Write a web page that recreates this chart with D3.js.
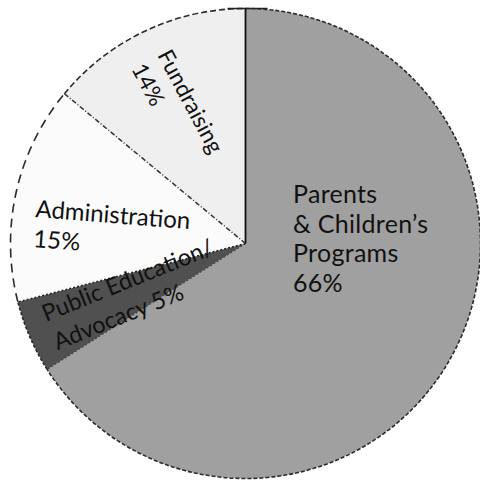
<!DOCTYPE html>
<html><head><meta charset="utf-8">
<script src="https://cdn.jsdelivr.net/npm/d3@7"></script>
<style>
html,body{margin:0;padding:0;background:#fff;}
svg{display:block;}
text{font-family:Lato,"Open Sans",sans-serif;fill:#111;}
</style></head>
<body>
<svg id="chart" width="480" height="481"></svg>
<script>
// ---- data ----
const categories = ["Parents & Children’s Programs", "Public Education/ Advocacy", "Administration", "Fundraising"];
const values = [66, 5, 15, 14];
const labelLines = [
  ["Parents", "& Children’s", "Programs", "66%"],
  ["Public Education/", "Advocacy 5%"],
  ["Administration", "15%"],
  ["Fundraising", "14%"]
];

// ---- styles / layout ----
const W = 480, H = 481;
const cx = 245.5, cy = 243.5, R = 235;
const fills = ["#a0a0a0", "#505050", "#fbfbfb", "#efefef"];
const arcDash = ["4,2", "3,2", "9,6", "6,3"];
// label anchors: [x, y, rotation, fontSize, lineHeight, letterSpacing]
const labelLayout = [
  [293, 203, 0, 25, 29.5, 0.3],
  [46, 322, -22, 23.5, 30.5, 0],
  [35, 217, 4.5, 24, 30, 0],
  [157, 55, 62, 22.5, 29.5, 0]
];

const svg = d3.select("#chart");
const g = svg.append("g").attr("transform", `translate(${cx},${cy})`);

const pie = d3.pie().sort(null).value(d => d).startAngle(0).endAngle(2 * Math.PI);
const arcs = pie(values);
const arcGen = d3.arc().innerRadius(0).outerRadius(R);

g.selectAll("path.slice").data(arcs).join("path")
  .attr("class", "slice")
  .attr("d", arcGen)
  .attr("fill", (d, i) => fills[i])
  .attr("stroke", "none");

// outer dashed rims
g.selectAll("path.rim").data(arcs).join("path")
  .attr("class", "rim")
  .attr("d", d => {
    const p = d3.path();
    p.arc(0, 0, R, d.startAngle - Math.PI / 2, d.endAngle - Math.PI / 2);
    return p.toString();
  })
  .attr("fill", "none")
  .attr("stroke", "#2a2a2a")
  .attr("stroke-width", 1.6)
  .attr("stroke-dasharray", (d, i) => arcDash[i]);

// radial boundaries
const radialStyle = [
  {dash: null, w: 1.8, c: "#111"},
  {dash: "2,2", w: 1.2, c: "#444"},
  {dash: "2,2", w: 1.6, c: "#222"},
  {dash: "5,2,1,2", w: 1.5, c: "#333"}
];
g.selectAll("line.radial").data(arcs).join("line")
  .attr("class", "radial")
  .attr("x1", 0).attr("y1", 0)
  .attr("x2", d => R * Math.sin(d.startAngle))
  .attr("y2", d => -R * Math.cos(d.startAngle))
  .attr("stroke", (d, i) => radialStyle[i].c)
  .attr("stroke-width", (d, i) => radialStyle[i].w)
  .attr("stroke-dasharray", (d, i) => radialStyle[i].dash);

// small cap at top of the first boundary
g.append("line")
  .attr("x1", -18).attr("x2", 22)
  .attr("y1", -R).attr("y2", -R)
  .attr("stroke", "#222").attr("stroke-width", 1.5);

// labels
labelLines.forEach((lines, i) => {
  const [x, y, rot, fs, lh, ls] = labelLayout[i];
  const t = svg.append("text")
    .attr("transform", `translate(${x},${y}) rotate(${rot})`)
    .style("font-size", fs + "px")
    .style("letter-spacing", ls + "px");
  lines.forEach((ln, j) => {
    t.append("tspan").attr("x", 0).attr("y", j * lh).text(ln);
  });
});
</script>
</body></html>
